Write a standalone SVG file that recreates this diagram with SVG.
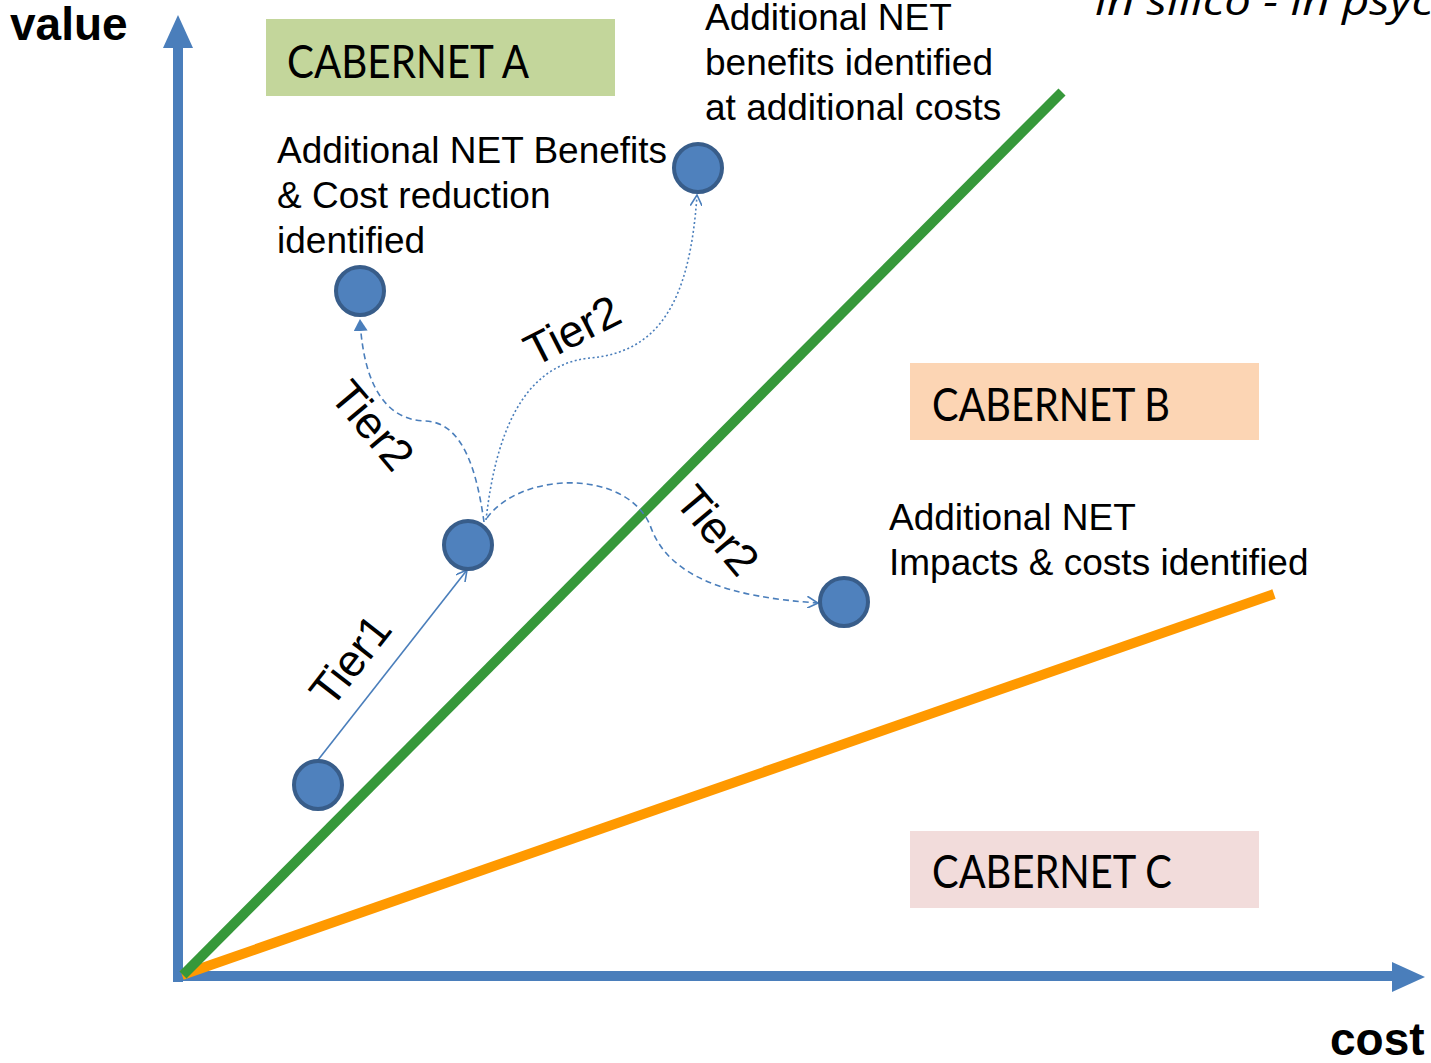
<svg xmlns="http://www.w3.org/2000/svg" width="1431" height="1063" viewBox="0 0 1431 1063">
<style>
.lbl{font-family:"Liberation Sans",Arial,sans-serif;font-size:37px;fill:#000}
.tier{font-family:"Liberation Sans",Arial,sans-serif;font-size:45px;fill:#000;text-anchor:middle}
.axis{font-family:"Liberation Sans",Arial,sans-serif;font-size:46px;font-weight:bold;fill:#000}
.cab{font-family:Lato,"Open Sans",sans-serif;font-size:46px;fill:#000}
.node{fill:#4f81bd;stroke:#385d8a;stroke-width:4}
.edge{fill:none;stroke:#4a7ebb;stroke-width:1.6}
</style>
<defs>
<marker id="open" viewBox="0 0 12 12" refX="11" refY="6" markerWidth="12" markerHeight="12" markerUnits="userSpaceOnUse" orient="auto">
<path d="M0,0 L11,6 L0,12" fill="none" stroke="#4a7ebb" stroke-width="1.6"/>
</marker>
<marker id="filled" viewBox="0 0 12 14" refX="11" refY="7" markerWidth="12" markerHeight="14" markerUnits="userSpaceOnUse" orient="auto">
<path d="M0,0 L12,7 L0,14 Z" fill="#4a7ebb"/>
</marker>
</defs>
<rect width="1431" height="1063" fill="#fff"/>

<text x="1095" y="15" font-family="'Open Sans',sans-serif" font-style="italic" font-size="40" textLength="338" lengthAdjust="spacingAndGlyphs">in silico - in psyc</text>

<g id="axes">
<line x1="178" y1="982" x2="178" y2="45" stroke="#4a7ebb" stroke-width="10"/>
<path d="M178,15 L193,48 L163,48 Z" fill="#4a7ebb"/>
<line x1="173" y1="976" x2="1395" y2="976" stroke="#4a7ebb" stroke-width="10"/>
<path d="M1425,977 L1392,992 L1392,962 Z" fill="#4a7ebb"/>
<text class="axis" x="10" y="40">value</text>
<text class="axis" x="1330" y="1055">cost</text>
</g>

<g id="boundaries">
<line x1="182" y1="975" x2="1274" y2="594" stroke="#ff9900" stroke-width="10"/>
<line x1="183" y1="975" x2="1062" y2="92" stroke="#36983a" stroke-width="10"/>
</g>

<g id="cabernet-a"><rect x="266" y="19" width="349" height="77" fill="#c3d69b"/><text class="cab" x="287" y="78" textLength="242" lengthAdjust="spacingAndGlyphs">CABERNET A</text></g>
<g id="cabernet-b"><rect x="910" y="363" width="349" height="77" fill="#fcd5b4"/><text class="cab" x="932" y="421" textLength="238" lengthAdjust="spacingAndGlyphs">CABERNET B</text></g>
<g id="cabernet-c"><rect x="910" y="831" width="349" height="77" fill="#f2dcdb"/><text class="cab" x="932" y="888" textLength="240" lengthAdjust="spacingAndGlyphs">CABERNET C</text></g>

<g id="label-cost-reduction"><text class="lbl" x="277" y="163">Additional NET Benefits</text><text class="lbl" x="277" y="208">&amp; Cost reduction</text><text class="lbl" x="277" y="253">identified</text></g>
<g id="label-additional-costs"><text class="lbl" x="705" y="30">Additional NET</text><text class="lbl" x="705" y="75">benefits identified</text><text class="lbl" x="705" y="120">at additional costs</text></g>
<g id="label-impacts"><text class="lbl" x="889" y="530">Additional NET</text><text class="lbl" x="889" y="575">Impacts &amp; costs identified</text></g>

<g id="connectors">
<line class="edge" x1="318" y1="760" x2="467" y2="570" marker-end="url(#open)"/>
<path class="edge" d="M484,522 C478,480 466,422 425,421 C390,420 364,392 360,320" stroke-dasharray="6,4" marker-end="url(#filled)"/>
<path class="edge" d="M486,520 C495,440 520,365 590,358 C660,352 690,300 697,195" stroke-dasharray="2,2.5" marker-end="url(#open)"/>
<path class="edge" d="M487,518 C520,472 625,468 650,525 C668,578 730,597 818,603" stroke-dasharray="6,4" marker-end="url(#open)"/>
<text class="tier" transform="translate(350,660) rotate(-52)" y="16">Tier1</text>
<text class="tier" transform="translate(373,425) rotate(50)" y="16">Tier2</text>
<text class="tier" transform="translate(572,330) rotate(-27)" y="16">Tier2</text>
<text class="tier" transform="translate(718,530) rotate(50)" y="16">Tier2</text>
</g>

<g id="n1"><circle class="node" cx="318" cy="785" r="24"/></g>
<g id="n2"><circle class="node" cx="468" cy="545" r="24"/></g>
<g id="n3"><circle class="node" cx="360" cy="291" r="24"/></g>
<g id="n4"><circle class="node" cx="698" cy="168" r="24"/></g>
<g id="n5"><circle class="node" cx="844" cy="602" r="24"/></g>
</svg>
